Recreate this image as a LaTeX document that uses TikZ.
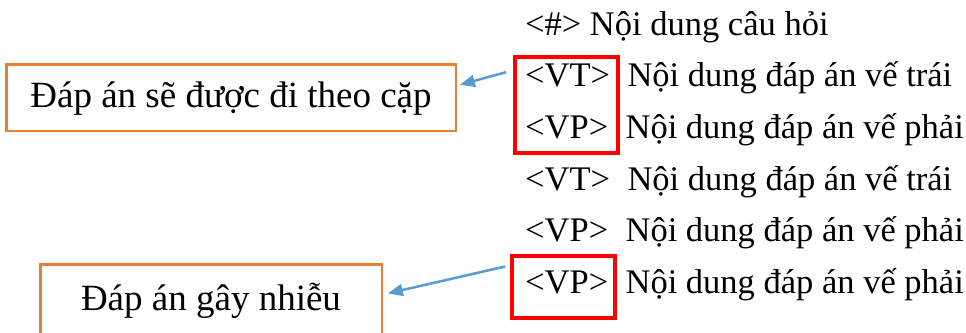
\documentclass[tikz,border=0pt]{standalone}
\usepackage{fontspec}
\setmainfont{Liberation Serif}
\usepackage{xcolor}
\usetikzlibrary{arrows.meta, positioning}
\definecolor{noteOrange}{HTML}{ED7D31}
\definecolor{pairRed}{HTML}{FF0000}
\definecolor{arrowBlue}{HTML}{5B9BD5}
\tikzstyle{noteBox} = [draw=noteOrange, line width=2.5pt, rectangle, inner sep=0,
text height=27pt, text depth=8pt, font=\fontsize{37}{44}\selectfont]
\tikzstyle{redBox} = [draw=pairRed, line width=4pt, rectangle, inner sep=0]
\tikzstyle{rowText} = [anchor=base west, inner sep=0, font=\fontsize{34.5}{41}\selectfont]
\tikzstyle{pointer} = [draw=arrowBlue, line width=2.5pt, -{Triangle[length=15pt,width=12pt]}]

\begin{document}
\begin{tikzpicture}[x=1pt, y=-1pt]
		\useasboundingbox (0,0) rectangle (966,332);
		% nodes
		\node[rowText] (q) at (525,35) {<\#> Nội dung câu hỏi};					% Cau hoi
		\node[rowText] (vt-a) at (525,86) {<VT>};								% 1. Cap
		\node[rowText, right=17pt of vt-a.base east, anchor=base west] (vt-a-txt) {Nội dung đáp án vế trái};
		\node[rowText] (vp-a) at (525,138) {<VP>};
		\node[rowText, right=17pt of vp-a.base east, anchor=base west] (vp-a-txt) {Nội dung đáp án vế phải};
		\node[rowText] (vt-b) at (525,190) {<VT>};								% 2. Cap
		\node[rowText, right=17pt of vt-b.base east, anchor=base west] (vt-b-txt) {Nội dung đáp án vế trái};
		\node[rowText] (vp-b) at (525,241) {<VP>};
		\node[rowText, right=17pt of vp-b.base east, anchor=base west] (vp-b-txt) {Nội dung đáp án vế phải};
		\node[rowText] (vp-c) at (525,293) {<VP>};								% Nhieu
		\node[rowText, right=17pt of vp-c.base east, anchor=base west] (vp-c-txt) {Nội dung đáp án vế phải};
		
		% red frames
		\node[redBox, minimum width=103pt, minimum height=96pt] (pair) at (566.5,105) {};
		\node[redBox, minimum width=103pt, minimum height=62pt] (odd) at (563.5,287) {};
		
		% orange notes
		\node[noteBox, minimum width=449.5pt, minimum height=66.5pt] (pair-note) at (231,97.5) {Đáp án sẽ được đi theo cặp};
		\node[noteBox, minimum width=341.5pt, minimum height=72.5pt] (odd-note) at (211,300.5) {Đáp án gây nhiễu};
		
		% arrows
		\draw[pointer, shorten <=7pt, shorten >=3pt] (pair.147) to (pair-note.3.3);
		\draw[pointer, shorten <=5pt, shorten >=5pt] (odd.158) to (odd-note.2.1);
\end{tikzpicture}
\end{document}
